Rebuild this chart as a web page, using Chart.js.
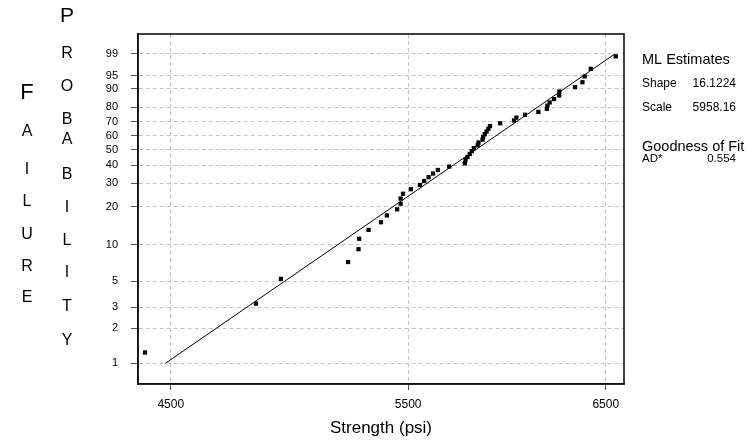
<!DOCTYPE html>
<html>
<head>
<meta charset="utf-8">
<script src="https://cdn.jsdelivr.net/npm/chart.js@4.4.1/dist/chart.umd.min.js"></script>
<style>
  html, body { margin: 0; padding: 0; background: #fff; }
  canvas { display: block; }
</style>
</head>
<body>
<canvas id="c" width="751" height="441"></canvas>
<script>
// ---- data ----
const strengthPsi = [4403, 4836, 4939, 5228, 5274, 5277, 5319, 5375, 5402, 5449,
                     5465, 5465, 5476, 5513, 5555, 5575, 5596, 5617, 5640, 5694,
                     5770, 5773, 5783, 5794, 5804, 5814, 5833, 5837, 5857, 5860,
                     5868, 5877, 5886, 5894, 5945, 6015, 6027, 6071, 6140, 6184,
                     6187, 6199, 6222, 6249, 6250, 6333, 6373, 6385, 6418, 6555];
const failurePct = [1.24, 3.23, 5.22, 7.21, 9.20, 11.19, 13.18, 15.17, 17.16, 19.15,
                    21.14, 23.13, 25.12, 27.11, 29.10, 31.09, 33.08, 35.07, 37.06, 39.05,
                    41.04, 43.03, 45.02, 47.01, 49.00, 50.99, 52.99, 54.98, 56.97, 58.96,
                    60.95, 62.94, 64.93, 66.92, 68.91, 70.90, 72.89, 74.88, 76.87, 78.86,
                    80.85, 82.84, 84.83, 86.82, 88.81, 90.80, 92.79, 94.78, 96.77, 98.76];
const fitStrength = [4479, 6550];
const fitPct = [1, 99];
const xTicks = [4500, 5500, 6500];
const yTicks = [1, 2, 3, 5, 10, 20, 30, 40, 50, 60, 70, 80, 90, 95, 99];
const yTitleWord1 = "FAILURE";
const yTitleWord2 = "PROBABILITY";
const xTitle = "Strength (psi)";
const estimatesTitle = "ML Estimates";
const estimateNames = ["Shape", "Scale"];
const estimateValues = ["16.1224", "5958.16"];
const gofTitle = "Goodness of Fit";
const gofNames = ["AD*"];
const gofValues = ["0.554"];

// ---- Weibull probability scale ----
const wb = p => Math.log(-Math.log(1 - p / 100));
class WeibullScale extends Chart.LinearScale {
  getPixelForValue(v) {
    const a = wb(this.min), b = wb(this.max);
    return this.getPixelForDecimal((wb(v) - a) / (b - a));
  }
  getValueForPixel(px) {
    const a = wb(this.min), b = wb(this.max);
    const w = a + this.getDecimalForPixel(px) * (b - a);
    return 100 * (1 - Math.exp(-Math.exp(w)));
  }
}
WeibullScale.id = 'weibull';
WeibullScale.defaults = Chart.LinearScale.defaults;
Chart.register(WeibullScale);

const FONT = "'Liberation Sans', Arial, sans-serif";

const decorPlugin = {
  id: 'decor',
  afterDraw(chart) {
    const ctx = chart.ctx;
    const a = chart.chartArea;
    ctx.save();
    // frame
    ctx.strokeStyle = '#111';
    ctx.lineWidth = 1.6;
    ctx.strokeRect(a.left, a.top, a.right - a.left, a.bottom - a.top);
    // stacked y title
    ctx.fillStyle = '#000';
    ctx.textAlign = 'center';
    ctx.textBaseline = 'middle';
    const y1 = [93, 132, 170, 202, 235, 267, 298];
    for (let i = 0; i < yTitleWord1.length; i++) {
      ctx.font = (i === 0 ? '22px ' : '16px ') + FONT;
      ctx.fillText(yTitleWord1[i], 27, y1[i]);
    }
    const y2 = [16, 54, 87, 120, 140, 175, 208, 241, 273, 307, 341];
    for (let i = 0; i < yTitleWord2.length; i++) {
      ctx.font = (i === 0 ? '21px ' : '16px ') + FONT;
      ctx.fillText(yTitleWord2[i], 67, y2[i]);
    }
    // right panel
    ctx.textAlign = 'left';
    ctx.font = '14.5px ' + FONT;
    ctx.fillText(estimatesTitle, 642, 60);
    ctx.font = '12px ' + FONT;
    const ey = [83.5, 107.5];
    estimateNames.forEach((n, i) => {
      ctx.textAlign = 'left';
      ctx.fillText(n, 642, ey[i]);
      ctx.textAlign = 'right';
      ctx.fillText(estimateValues[i], 736, ey[i]);
    });
    ctx.textAlign = 'left';
    ctx.font = '14.5px ' + FONT;
    ctx.fillText(gofTitle, 642, 147);
    ctx.font = '11.5px ' + FONT;
    gofNames.forEach((n, i) => {
      ctx.textAlign = 'left';
      ctx.fillText(n, 642, 159);
      ctx.textAlign = 'right';
      ctx.fillText(gofValues[i], 736, 159);
    });
    ctx.restore();
  }
};

const gridColor = '#c4c4c4';

new Chart(document.getElementById('c'), {
  type: 'scatter',
  data: {
    datasets: [
      {
        type: 'line',
        data: fitStrength.map((x, i) => ({ x: x, y: fitPct[i] })),
        borderColor: '#000',
        borderWidth: 1,
        pointRadius: 0,
        fill: false,
        tension: 0
      },
      {
        data: strengthPsi.map((x, i) => ({ x: x, y: failurePct[i] })),
        pointStyle: 'rect',
        pointRadius: 3,
        backgroundColor: '#000',
        borderColor: '#000',
        borderWidth: 0
      }
    ]
  },
  options: {
    responsive: false,
    animation: false,
    devicePixelRatio: 1,
    layout: { padding: { left: 0, top: 34, right: 127, bottom: 0 } },
    plugins: { legend: { display: false }, tooltip: { enabled: false } },
    scales: {
      x: {
        type: 'logarithmic',
        min: 4377,
        max: 6601,
        afterBuildTicks: s => { s.ticks = xTicks.map(v => ({ value: v })); },
        afterFit: s => { s.height = 57; },
        ticks: {
          autoSkip: false,
          maxRotation: 0,
          padding: 7,
          color: '#000',
          font: { family: FONT, size: 12 },
          callback: v => String(v)
        },
        grid: { color: gridColor, lineWidth: 1, tickLength: 6, tickColor: '#555' },
        border: { display: true, color: '#111', width: 1.6, dash: [4, 3] },
        title: {
          display: true, text: xTitle, color: '#000',
          font: { family: FONT, size: 17 },
          padding: { top: 0, bottom: 2 }
        }
      },
      y: {
        type: 'weibull',
        min: 0.6663,
        max: 99.893,
        afterBuildTicks: s => { s.ticks = yTicks.map(v => ({ value: v })); },
        afterFit: s => { s.width = 138; },
        ticks: {
          autoSkip: false,
          padding: 13,
          color: '#000',
          font: { family: FONT, size: 11 },
          callback: v => String(v)
        },
        grid: { color: gridColor, lineWidth: 1, tickLength: 7, tickColor: '#555' },
        border: { display: true, color: '#111', width: 1.6, dash: [4, 3] }
      }
    }
  },
  plugins: [decorPlugin]
});
</script>
</body>
</html>
